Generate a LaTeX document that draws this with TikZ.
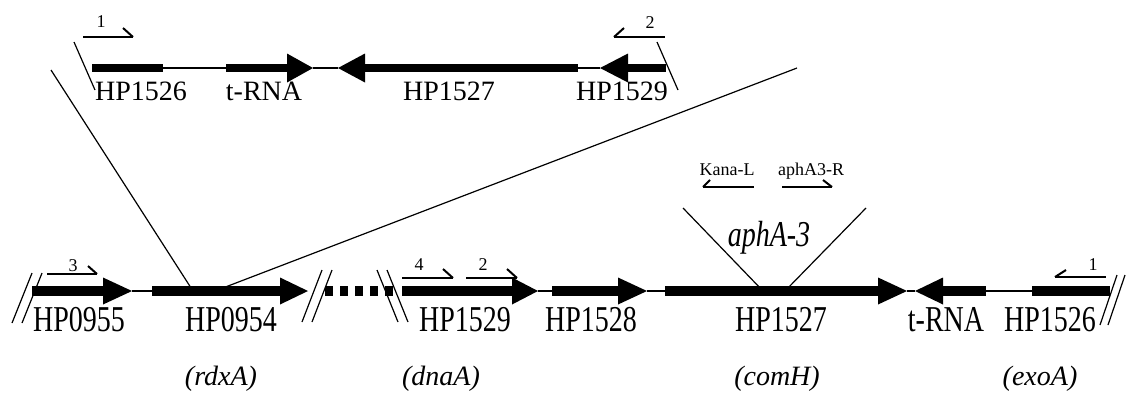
\documentclass[tikz,border=0pt]{standalone}
\usepackage{fontspec}
\usepackage{graphicx}
\setmainfont{Liberation Serif}
\newcommand{\tallcaps}[1]{\scalebox{1}[1.3]{#1}}
\begin{document}
\begin{tikzpicture}[x=1pt,y=-1pt,
  big/.style={font=\fontsize{28}{30}\selectfont, inner sep=0pt, anchor=base},
  bigit/.style={font=\fontsize{28}{30}\selectfont\itshape, inner sep=0pt, anchor=base},
  small/.style={font=\fontsize{18}{20}\selectfont, inner sep=0pt, anchor=base},
  thin/.style={line width=1.3pt},
  primer/.style={line width=2.5pt, line cap=butt},
  hook/.style={line width=2pt},
  breakmark/.style={line width=1.2pt},
  zoomline/.style={line width=1.2pt},
]
\useasboundingbox (0,0) rectangle (1126,392);

% forward gene: start, head base, tip, centre y, bar thickness, head half-height
\newcommand{\genefwd}[6]{%
  \fill (#1,#4-#5/2) rectangle (#2,#4+#5/2);
  \fill (#2,#4-#6) -- (#3,#4) -- (#2,#4+#6) -- cycle;}
% reverse gene: end, head base, tip
\newcommand{\generev}[6]{%
  \fill (#2,#4-#5/2) rectangle (#1,#4+#5/2);
  \fill (#2,#4-#6) -- (#3,#4) -- (#2,#4+#6) -- cycle;}

%---------------- upper map ----------------
\fill (92,64) rectangle (163,72);
\draw[thin] (163,68) -- (226,68);
\genefwd{226}{287}{313}{68}{8}{14.5}
\draw[thin] (313,68) -- (338,68);
\generev{578}{365}{338}{68}{8}{14.5}
\draw[thin] (578,68) -- (600,68);
\generev{666}{628}{600}{68}{8}{14.5}

\draw[breakmark] (74,42) -- (95,90);
\draw[breakmark] (657,42) -- (678,90);

\node[big] (tHP1526) at (141,100) {HP1526};
\node[big] (ttRNA) at (264,100) {t-RNA};
\node[big] (tHP1527) at (449,100) {HP1527};
\node[big] (tHP1529) at (622,100) {HP1529};

% primers 1 and 2 on the upper map
\draw[primer] (83,37) -- (133,37);
\draw[hook] (133,37) -- (123,28);
\node[small] (p1t) at (101,27) {1};
\draw[primer] (614,37) -- (665,37);
\draw[hook] (614,37) -- (624,28);
\node[small] (p2t) at (650,28) {2};

%---------------- lower map ----------------
\draw[breakmark] (12,323) -- (32,273);
\draw[breakmark] (22,323) -- (42,273);
\genefwd{32}{103}{132}{291}{10}{13.5}
\draw[thin] (132,291) -- (152,291);
\genefwd{152}{280}{308}{291}{10}{13.5}
\draw[breakmark] (302,322) -- (322,270);
\draw[breakmark] (312,322) -- (332,270);
\draw[line width=10pt, dash pattern=on 8pt off 7pt] (325,291) -- (393,291);
\draw[breakmark] (377,270) -- (398,322);
\draw[breakmark] (387,270) -- (408,322);
\genefwd{402}{512}{538}{291}{10}{13.5}
\draw[thin] (538,291) -- (552,291);
\genefwd{552}{618}{647}{291}{10}{13.5}
\draw[thin] (647,291) -- (665,291);
\genefwd{665}{878}{907}{291}{10}{13.5}
\draw[thin] (907,291) -- (915,291);
\generev{986}{943}{915}{291}{10}{13.5}
\draw[thin] (986,291) -- (1032,291);
\fill (1032,286) rectangle (1110,296);
\draw[breakmark] (1100,325) -- (1117,275);
\draw[breakmark] (1108,325) -- (1125,275);

\node[big] (bHP0955) at (79,331) {\tallcaps{HP0955}};
\node[big] (bHP0954) at (231,331) {\tallcaps{HP0954}};
\node[big] (bHP1529) at (465,331) {\tallcaps{HP1529}};
\node[big] (bHP1528) at (591,331) {\tallcaps{HP1528}};
\node[big] (bHP1527) at (781,331) {\tallcaps{HP1527}};
\node[big] (btRNA) at (946,331) {\tallcaps{t-RNA}};
\node[big] (bHP1526) at (1050,331) {\tallcaps{HP1526}};

\node[bigit] (rdxA) at (221,385) {(rdxA)};
\node[bigit] (dnaA) at (441,385) {(dnaA)};
\node[bigit] (comH) at (777,385) {(comH)};
\node[bigit] (exoA) at (1040,385) {(exoA)};

% primers on the lower map
\draw[primer] (47,274) -- (97,274);
\draw[hook] (97,274) -- (88,266);
\node[small] (p3) at (73,271) {3};
\draw[primer] (402,278) -- (453,278);
\draw[hook] (453,278) -- (443,269);
\node[small] (p4) at (419,270) {4};
\draw[primer] (466,278) -- (517,278);
\draw[hook] (517,278) -- (507,269);
\node[small] (p2b) at (483,270) {2};
\draw[primer] (1055,277) -- (1106,277);
\draw[hook] (1055,277) -- (1066,270);
\node[small] (p1b) at (1093,270) {1};

% aphA-3 cassette insertion
\coordinate (insL) at (763,291);
\coordinate (insR) at (785,291);
\coordinate (insLt) at (683,208);
\coordinate (insRt) at (866,208);
\draw[zoomline] (insL) -- (insLt);
\draw[zoomline] (insR) -- (insRt);
\node[bigit] (aph) at (769,246) {\tallcaps{aphA-3}};
\draw[primer] (703,187) -- (754,187);
\draw[hook] (703,187) -- (710,180);
\node[small] (kanaL) at (727,175) {Kana-L};
\draw[primer] (782,187) -- (832,187);
\draw[hook] (832,187) -- (823,180);
\node[small] (aphR) at (811,175) {aphA3-R};

% lines relating the upper map to the HP0954 locus
\coordinate (zA) at (193,291);
\coordinate (zB) at (215,291);
\coordinate (zAt) at (51,70);
\coordinate (zBt) at (797,68);
\draw[zoomline] (zA) -- (zAt);
\draw[zoomline] (zB) -- (zBt);
\end{tikzpicture}
\end{document}
